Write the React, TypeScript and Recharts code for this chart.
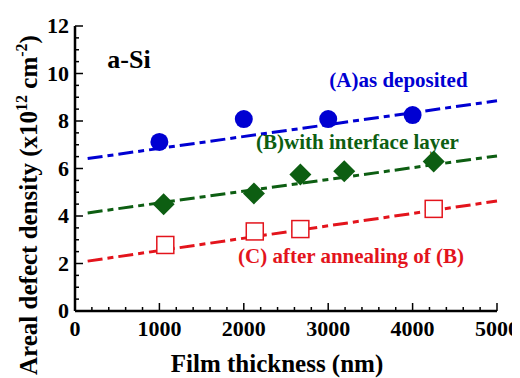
import React from "react";
import {
  ComposedChart,
  Line,
  Scatter,
  XAxis,
  YAxis,
  ReferenceDot,
} from "recharts";

// measured points (thickness nm, areal defect density x1e12 cm^-2)
const asDeposited = [
  { x: 1000, y: 7.12 },
  { x: 2000, y: 8.08 },
  { x: 3000, y: 8.08 },
  { x: 4000, y: 8.25 },
];
const withInterface = [
  { x: 1050, y: 4.5 },
  { x: 2120, y: 4.95 },
  { x: 2670, y: 5.75 },
  { x: 3190, y: 5.88 },
  { x: 4250, y: 6.3 },
];
const afterAnneal = [
  { x: 1070, y: 2.78 },
  { x: 2130, y: 3.35 },
  { x: 2670, y: 3.45 },
  { x: 4250, y: 4.3 },
];

// fitted lines
const fitA = [
  { x: 150, y: 6.42 },
  { x: 5000, y: 8.85 },
];
const fitB = [
  { x: 150, y: 4.13 },
  { x: 5000, y: 6.53 },
];
const fitC = [
  { x: 150, y: 2.1 },
  { x: 5000, y: 4.63 },
];

const xTicks = Array.from({ length: 26 }, (_, i) => i * 200);
const yTicks = Array.from({ length: 25 }, (_, i) => i * 0.5);

const BLUE = "#0000d2";
const GREEN = "#0d5e12";
const RED = "#e3141c";
const FONT = "Liberation Serif";
const DASH = "15 5 6 5";

const txt = (size: number, color = "#000") => ({
  fontFamily: FONT,
  fontWeight: 700,
  fontSize: size,
  fill: color,
});

const BottomTick = ({ x, y, payload }: any) => {
  const major = payload.value % 1000 === 0;
  return (
    <g>
      <line x1={x} x2={x} y1={y} y2={y - (major ? 8 : 4)} stroke="#000" strokeWidth={1.5} />
      {major && (
        <text x={x} y={y + 25} textAnchor="middle" style={txt(22)}>
          {payload.value}
        </text>
      )}
    </g>
  );
};

const TopTick = ({ x, y, payload }: any) => {
  const major = payload.value % 1000 === 0;
  return <line x1={x} x2={x} y1={y} y2={y + (major ? 8 : 4)} stroke="#000" strokeWidth={1.5} />;
};

const LeftTick = ({ x, y, payload }: any) => {
  const major = payload.value % 2 === 0;
  return (
    <g>
      <line x1={x} x2={x + (major ? 8 : 4)} y1={y} y2={y} stroke="#000" strokeWidth={1.5} />
      {major && (
        <text x={x - 6} y={y + 7} textAnchor="end" style={txt(22)}>
          {payload.value}
        </text>
      )}
    </g>
  );
};

const RightTick = ({ x, y, payload }: any) => {
  const major = payload.value % 2 === 0;
  return <line x1={x} x2={x - (major ? 8 : 4)} y1={y} y2={y} stroke="#000" strokeWidth={1.5} />;
};

const Circle = ({ cx, cy }: any) => <circle cx={cx} cy={cy} r={9} fill={BLUE} />;
const Diamond = ({ cx, cy }: any) => (
  <polygon
    points={`${cx},${cy - 11} ${cx + 11},${cy} ${cx},${cy + 11} ${cx - 11},${cy}`}
    fill={GREEN}
  />
);
const Square = ({ cx, cy }: any) => (
  <rect x={cx - 8.5} y={cy - 8.5} width={17} height={17} fill="#fff" stroke={RED} strokeWidth={1.5} />
);

const note = (text: string, color: string, size: number) => (props: any) => (
  <text x={props.cx} y={props.cy} textAnchor="middle" style={txt(size, color)}>
    {text}
  </text>
);

const YLabel = () => (
  <text x={29} y={197} transform="rotate(-90, 29, 197)" textAnchor="middle" style={txt(25)}>
    Areal defect density (x10
    <tspan dy={-10} style={{ fontSize: 16 }}>12</tspan>
    <tspan dy={10}> cm</tspan>
    <tspan dy={-10} style={{ fontSize: 16 }}>-2</tspan>
    <tspan dy={10}>)</tspan>
  </text>
);

const XLabel = ({ viewBox }: any) => (
  <text x={viewBox.x + viewBox.width / 2 - 9} y={viewBox.y + 61} textAnchor="middle" style={txt(25)}>
    Film thickness (nm)
  </text>
);

export default function App() {
  return (
    <ComposedChart width={512} height={370} margin={{ top: 18, right: 23, left: 0, bottom: 0 }}>
      <XAxis
        dataKey="x"
        type="number"
        domain={[0, 5000]}
        ticks={xTicks}
        interval={0}
        tickSize={0}
        tickMargin={0}
        height={67}
        axisLine={{ stroke: "#000", strokeWidth: 2.5 }}
        tick={<BottomTick />}
        label={{ content: <XLabel /> }}
      />
      <XAxis
        xAxisId="top"
        orientation="top"
        type="number"
        domain={[0, 5000]}
        ticks={xTicks}
        interval={0}
        tickSize={0}
        tickMargin={0}
        height={0}
        axisLine={{ stroke: "#000", strokeWidth: 2.5 }}
        tick={<TopTick />}
      />
      <YAxis
        dataKey="y"
        type="number"
        domain={[0, 12]}
        ticks={yTicks}
        interval={0}
        tickSize={0}
        tickMargin={0}
        width={67}
        axisLine={{ stroke: "#000", strokeWidth: 2.5 }}
        tick={<LeftTick />}
        label={{ content: <YLabel /> }}
      />
      <YAxis
        yAxisId="right"
        orientation="right"
        type="number"
        domain={[0, 12]}
        ticks={yTicks}
        interval={0}
        tickSize={0}
        tickMargin={0}
        width={0}
        axisLine={{ stroke: "#000", strokeWidth: 2.5 }}
        tick={<RightTick />}
      />

      <Line data={fitA} dataKey="y" stroke={BLUE} strokeWidth={3} strokeDasharray={DASH} dot={false} activeDot={false} isAnimationActive={false} />
      <Line data={fitB} dataKey="y" stroke={GREEN} strokeWidth={3} strokeDasharray={DASH} dot={false} activeDot={false} isAnimationActive={false} />
      <Line data={fitC} dataKey="y" stroke={RED} strokeWidth={3} strokeDasharray={DASH} dot={false} activeDot={false} isAnimationActive={false} />

      <Scatter data={asDeposited} fill={BLUE} shape={<Circle />} isAnimationActive={false} />
      <Scatter data={withInterface} fill={GREEN} shape={<Diamond />} isAnimationActive={false} />
      <Scatter data={afterAnneal} fill={RED} shape={<Square />} isAnimationActive={false} />

      <ReferenceDot x={640} y={10.23} r={0} shape={note("a-Si", "#000", 26)} />
      <ReferenceDot x={3833} y={9.43} r={0} shape={note("(A)as deposited", BLUE, 21)} />
      <ReferenceDot x={3347} y={6.82} r={0} shape={note("(B)with interface layer", GREEN, 21)} />
      <ReferenceDot x={3270} y={2.02} r={0} shape={note("(C) after annealing of (B)", RED, 21)} />
    </ComposedChart>
  );
}
